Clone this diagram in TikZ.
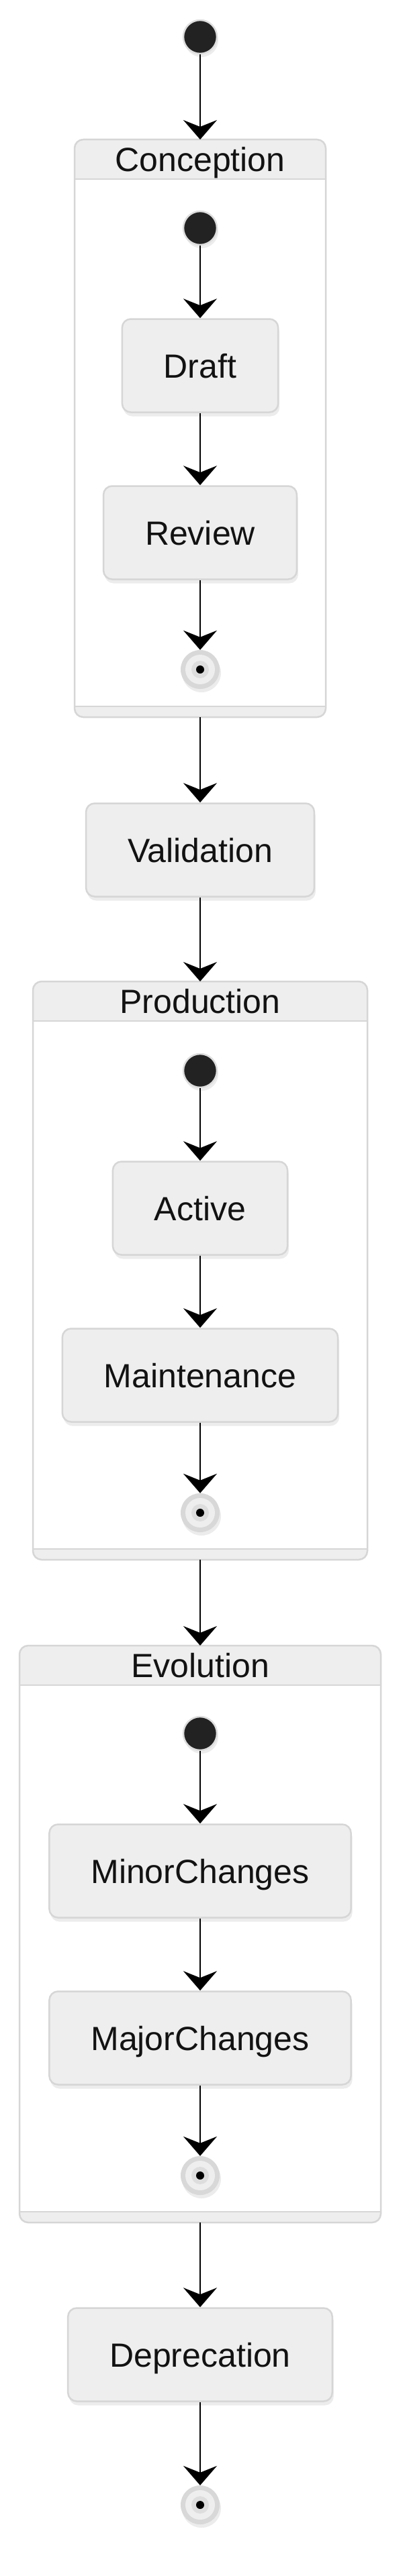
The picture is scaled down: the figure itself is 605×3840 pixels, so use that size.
\documentclass[tikz,border=0pt]{standalone}
\usepackage{fontspec}
\setmainfont{Liberation Sans}
\usetikzlibrary{arrows.meta, positioning, shadows}

\definecolor{statefill}{HTML}{EEEEEE}
\definecolor{stateline}{HTML}{D6D6D6}
\definecolor{initfill}{HTML}{222222}
\definecolor{initline}{HTML}{DDDDDD}
\definecolor{endouter}{HTML}{D8D8D8}
\definecolor{endmid}{HTML}{EEEEEE}
\definecolor{endinner}{HTML}{DDDDDD}

\begin{document}
\begin{tikzpicture}[
    x=1pt, y=-1pt,
    font=\fontsize{50}{60}\selectfont,
    state/.style={rectangle, rounded corners=13pt, minimum height=139pt, inner xsep=62pt, inner ysep=0pt, text height=36pt, text depth=0pt, draw=stateline, line width=2.5pt, fill=statefill, text=black!93, drop shadow={shadow xshift=2pt, shadow yshift=-6pt, opacity=0.15}},
    group/.style={rectangle, fill=white, inner sep=0pt, outer sep=0pt},
    groupline/.style={draw=stateline, line width=2.5pt},
    grouptitle/.style={inner sep=0pt, minimum height=59pt, text height=36pt, text depth=0pt, text=black!93},
    initstate/.style={circle, minimum size=50pt, inner sep=0pt, fill=initfill, draw=initline, line width=2.5pt, drop shadow={shadow xshift=2pt, shadow yshift=-5pt, opacity=0.15}},
    endstate/.style={circle, minimum size=58pt, inner sep=0pt, fill=endouter, drop shadow={shadow xshift=2pt, shadow yshift=-5pt, opacity=0.15},
        path picture={
            \fill[endmid] (path picture bounding box.center) circle[radius=22pt];
            \fill[endinner] (path picture bounding box.center) circle[radius=13pt];
            \fill[black] (path picture bounding box.center) circle[radius=6pt];
        }},
    arrow/.style={-{Stealth[length=29pt, width=50pt, inset=10pt]}, line width=2.6pt}
]

\path[use as bounding box, fill=white] (0,0) rectangle (605,3840);

% Composite states
\node[group, minimum width=374pt, minimum height=861pt] (conception) at (298,638.5) {};
\begin{scope}
    \clip[rounded corners=13pt] (conception.north west) rectangle (conception.south east);
    \fill[statefill] (conception.north west) rectangle ([yshift=-59pt]conception.north east);
    \fill[statefill] ([yshift=16pt]conception.south west) rectangle (conception.south east);
\end{scope}
\draw[groupline] ([yshift=-59pt]conception.north west) -- ([yshift=-59pt]conception.north east);
\draw[groupline] ([yshift=16pt]conception.south west) -- ([yshift=16pt]conception.south east);
\draw[groupline, rounded corners=13pt] (conception.north west) rectangle (conception.south east);
\node[grouptitle, below=0pt of conception.north] (conceptiontitle) {Conception};

\node[group, minimum width=498pt, minimum height=862pt] (production) at (298,1894) {};
\begin{scope}
    \clip[rounded corners=13pt] (production.north west) rectangle (production.south east);
    \fill[statefill] (production.north west) rectangle ([yshift=-59pt]production.north east);
    \fill[statefill] ([yshift=16pt]production.south west) rectangle (production.south east);
\end{scope}
\draw[groupline] ([yshift=-59pt]production.north west) -- ([yshift=-59pt]production.north east);
\draw[groupline] ([yshift=16pt]production.south west) -- ([yshift=16pt]production.south east);
\draw[groupline, rounded corners=13pt] (production.north west) rectangle (production.south east);
\node[grouptitle, below=0pt of production.north] (productiontitle) {Production};

\node[group, minimum width=538pt, minimum height=860pt] (evolution) at (298,2883) {};
\begin{scope}
    \clip[rounded corners=13pt] (evolution.north west) rectangle (evolution.south east);
    \fill[statefill] (evolution.north west) rectangle ([yshift=-59pt]evolution.north east);
    \fill[statefill] ([yshift=16pt]evolution.south west) rectangle (evolution.south east);
\end{scope}
\draw[groupline] ([yshift=-59pt]evolution.north west) -- ([yshift=-59pt]evolution.north east);
\draw[groupline] ([yshift=16pt]evolution.south west) -- ([yshift=16pt]evolution.south east);
\draw[groupline, rounded corners=13pt] (evolution.north west) rectangle (evolution.south east);
\node[grouptitle, below=0pt of evolution.north] (evolutiontitle) {Evolution};

% States
\node[initstate] (init) at (298,55) {};

\node[initstate] (cinit) at (298,340) {};
\node[state] (draft) at (298,545) {Draft};
\node[state] (review) at (298,794) {Review};
\node[endstate] (cend) at (298,998) {};

\node[state] (validation) at (298,1267) {Validation};

\node[initstate] (pinit) at (298,1596) {};
\node[state] (active) at (298,1801) {Active};
\node[state] (maintenance) at (298,2050) {Maintenance};
\node[endstate] (pend) at (298,2255) {};

\node[initstate] (einit) at (298,2584) {};
\node[state] (minor) at (298,2789) {MinorChanges};
\node[state] (major) at (298,3038) {MajorChanges};
\node[endstate] (eend) at (298,3243) {};

\node[state] (deprecation) at (298,3510) {Deprecation};
\node[endstate] (final) at (298,3734) {};

% Arrows
\draw[arrow] (init) -- (conception);
\draw[arrow] (cinit) -- (draft);
\draw[arrow] (draft) -- (review);
\draw[arrow] (review) -- (cend);
\draw[arrow] (conception) -- (validation);
\draw[arrow] (validation) -- (production);
\draw[arrow] (pinit) -- (active);
\draw[arrow] (active) -- (maintenance);
\draw[arrow] (maintenance) -- (pend);
\draw[arrow] (production) -- (evolution);
\draw[arrow] (einit) -- (minor);
\draw[arrow] (minor) -- (major);
\draw[arrow] (major) -- (eend);
\draw[arrow] (evolution) -- (deprecation);
\draw[arrow] (deprecation) -- (final);

\end{tikzpicture}
\end{document}
